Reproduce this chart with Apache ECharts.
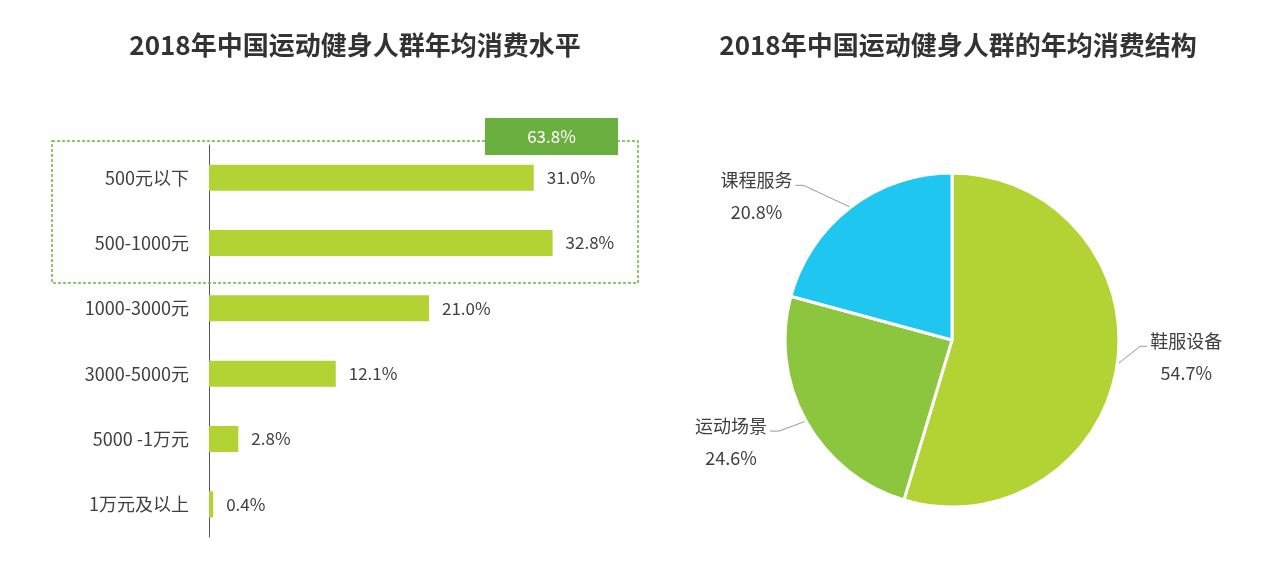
<!DOCTYPE html>
<html>
<head>
<meta charset="utf-8">
<script src="https://cdn.jsdelivr.net/npm/echarts@6/dist/echarts.min.js"></script>
<style>
html,body{margin:0;padding:0;background:#fff;}
#chart{width:1267px;height:580px;}
</style>
</head>
<body>
<div id="chart"></div>
<script>
const barCategories = ['500元以下', '500-1000元', '1000-3000元', '3000-5000元', '5000 -1万元', '1万元及以上'];
const barValues = [31.0, 32.8, 21.0, 12.1, 2.8, 0.4];
const highlightCount = 2;
const pieNames = ['鞋服设备', '运动场景', '课程服务'];
const pieValues = [54.7, 24.6, 20.8];
const leftTitle = '2018年中国运动健身人群年均消费水平';
const rightTitle = '2018年中国运动健身人群的年均消费结构';

const FONT = '"Noto Sans CJK SC", "Noto Sans", sans-serif';
const TXT = '#404040';
const highlightSum = barValues.slice(0, highlightCount).reduce((a, b) => a + b, 0);

// leader-line shapes (relative offsets from the slice edge point)
const leaderShapes = [
  {bend: [23, -18], end: 7, side: 1},
  {bend: [-27, 10], end: -9, side: -1},
  {bend: [-47, -22], end: -8, side: -1}
];

const chart = echarts.init(document.getElementById('chart'), null, {renderer: 'canvas'});
const option = {
  backgroundColor: '#fff',
  textStyle: {fontFamily: FONT},
  title: [
    {text: leftTitle, left: 350, top: 27, textAlign: 'center',
     textStyle: {fontFamily: FONT, fontSize: 26, fontWeight: 'bold', color: '#333'}},
    {text: rightTitle, left: 953, top: 27, textAlign: 'center',
     textStyle: {fontFamily: FONT, fontSize: 26, fontWeight: 'bold', color: '#333'}}
  ],
  grid: {left: 209, top: 145, width: 419, height: 392, containLabel: false},
  xAxis: {type: 'value', min: 0, max: 40, show: false},
  yAxis: {
    type: 'category', inverse: true, data: barCategories,
    axisLine: {show: true, lineStyle: {color: '#555', width: 1}},
    axisTick: {show: false},
    axisLabel: {color: TXT, fontSize: 18, margin: 20, fontFamily: FONT}
  },
  series: [
    {
      type: 'bar', data: barValues, barWidth: 26,
      itemStyle: {color: '#b3d234'},
      label: {show: true, position: 'right', distance: 13, color: TXT, fontSize: 17, fontFamily: FONT,
        formatter: p => p.value.toFixed(1) + '%'},
      silent: true
    },
    {
      type: 'pie', center: [952, 340], radius: 167, startAngle: 90, clockwise: true,
      data: pieNames.map((n, i) => ({name: n, value: pieValues[i]})),
      color: ['#b3d234', '#8cc63f', '#1fc6ef'],
      itemStyle: {borderColor: '#fff', borderWidth: 3},
      label: {
        show: true, color: TXT, fontFamily: FONT, fontSize: 18, lineHeight: 32,
        formatter: p => '{a|}\n{a|' + p.name + '}\n{a|' + p.value.toFixed(1) + '%}',
        rich: {a: {width: 74, align: 'center', fontSize: 18, lineHeight: 32, color: TXT, fontFamily: FONT}}
      },
      labelLine: {show: true, length: 20, length2: 10, lineStyle: {color: '#999', width: 1}},
      labelLayout: function (params) {
        const s = leaderShapes[params.dataIndex];
        if (!s || !params.labelLinePoints) return {};
        const p0 = params.labelLinePoints[0];
        const p1 = [p0[0] + s.bend[0], p0[1] + s.bend[1]];
        const p2 = [p1[0] + s.end, p1[1]];
        return {
          x: p2[0] + s.side * 2,
          y: p2[1] - 5,
          align: s.side > 0 ? 'left' : 'right',
          verticalAlign: 'middle',
          labelLinePoints: [p0, p1, p2]
        };
      },
      silent: true
    }
  ],
  graphic: [
    {type: 'rect', shape: {x: 52, y: 141, width: 586, height: 142}, z: 1,
     style: {fill: 'none', stroke: '#6db33f', lineWidth: 1.5, lineDash: [3, 2]}},
    {type: 'rect', shape: {x: 485, y: 118, width: 133, height: 37}, z: 5,
     style: {fill: '#6aaf3f'}},
    {type: 'text', x: 551.5, y: 136.5, z: 6,
     style: {text: highlightSum.toFixed(1) + '%', fill: '#fff', font: '17px ' + FONT, textAlign: 'center', textVerticalAlign: 'middle'}}
  ]
};
chart.setOption(option);
</script>
</body>
</html>
